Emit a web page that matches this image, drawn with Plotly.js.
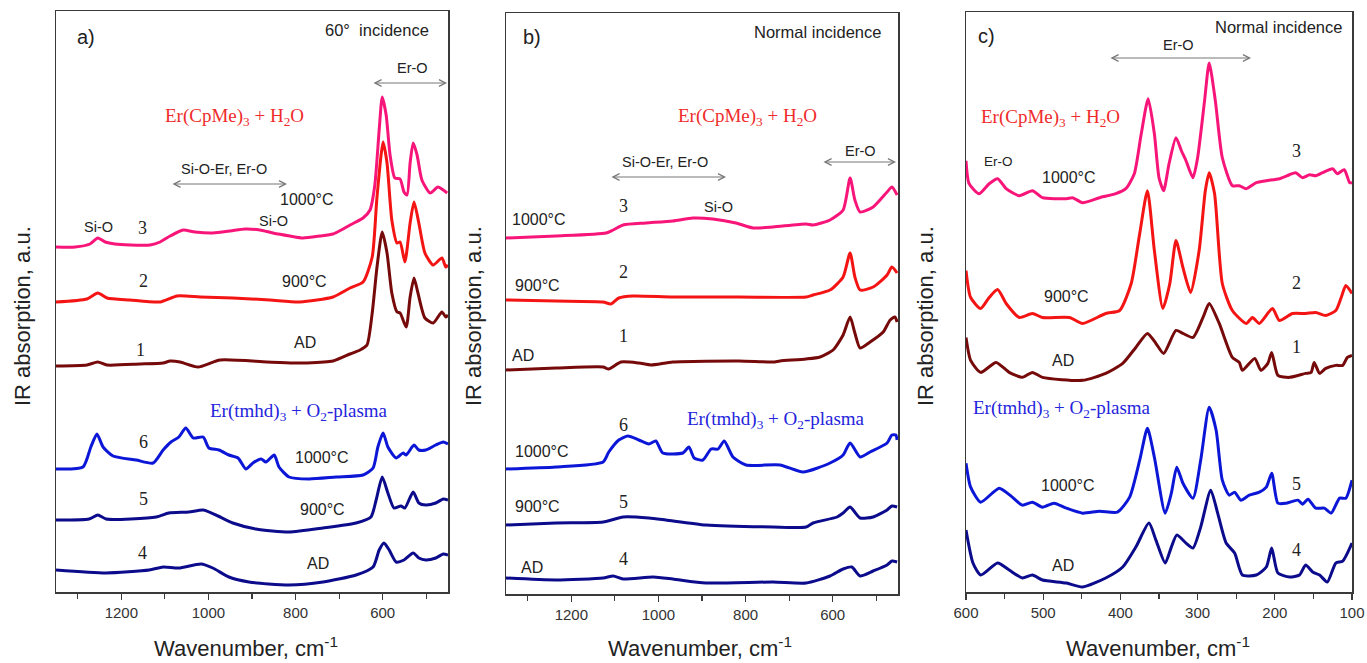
<!DOCTYPE html>
<html><head><meta charset="utf-8">
<script src="https://cdn.plot.ly/plotly-3.0.1.min.js"></script>
<style>html,body{margin:0;padding:0;background:#fff}#chart{width:1367px;height:663px}</style>
</head><body><div id="chart"></div>
<script>
// ---------- Panel a (60° incidence), wavenumber cm-1 / absorption (a.u., offset) ----------
const a_wn1=[1350,1279,1254,1233,1157,1104,1088,1065,1024,973,866,806,774,714,675,652,636,624,613,601,590,579,567,560,546,537,528,519,503,484,464,455,450];
const a_ab1=[22.6,22.7,23.0,22.7,22.8,22.9,23.1,23.0,22.5,23.2,23.0,22.9,22.9,23.1,23.8,24.2,24.7,27.9,32.5,36.0,33.9,29.9,28.0,27.9,26.5,29.5,31.4,29.9,27.4,26.9,28.0,27.5,27.7];
const a_wn2=[1350,1279,1254,1233,1180,1111,1072,1019,944,859,790,714,675,645,624,613,599,590,579,567,560,549,537,528,517,503,484,464,455,450];
const a_ab2=[29.0,29.3,29.9,29.4,29.2,29.0,29.6,29.5,29.4,29.2,29.0,29.5,30.4,31.0,33.5,39.5,45.0,42.9,37.2,34.9,35.0,33.0,36.9,39.0,36.9,33.9,32.7,33.4,32.5,32.7];
const a_wn3=[1350,1306,1272,1254,1237,1215,1180,1134,1111,1088,1058,1031,990,950,916,882,852,813,783,744,714,691,675,645,629,618,608,601,592,583,572,560,551,544,537,530,521,510,491,473,461,452];
const a_ab3=[34.5,34.5,34.8,35.4,35.0,34.8,34.7,34.7,35.0,35.6,36.2,36.0,35.9,36.1,36.3,36.2,35.9,35.6,35.4,35.6,35.8,36.3,36.7,37.4,38.2,40.7,46.2,49.5,47.7,43.7,41.4,41.3,40.0,39.7,42.9,44.9,43.7,41.2,39.9,40.5,40.2,39.9];
const a_wn4=[1350,1235,1136,1104,1068,1017,990,953,907,815,737,661,622,608,597,585,569,551,530,517,501,478,461,450];
const a_ab4=[2.2,1.9,2.2,2.5,2.4,2.8,2.4,1.5,1.0,0.7,1.0,1.7,2.5,4.2,4.9,4.2,3.0,3.2,3.9,3.4,3.2,3.4,3.8,3.7];
const a_wn5=[1350,1274,1254,1235,1120,1091,1045,1012,983,944,891,815,737,661,627,615,601,588,574,558,549,530,517,501,478,461,450];
const a_ab5=[7.2,7.3,7.7,7.3,7.5,7.9,8.0,8.2,7.7,6.9,6.3,6.0,6.4,6.9,7.5,9.2,11.5,9.9,8.4,8.6,8.4,10.0,8.9,8.7,8.9,9.3,9.2];
const a_wn6=[1350,1288,1270,1256,1242,1219,1166,1127,1104,1086,1068,1052,1035,1012,999,976,953,932,914,898,879,868,849,838,815,769,707,645,622,611,599,588,569,553,546,528,517,501,478,461,450];
const a_ab6=[12.3,12.5,14.5,15.8,14.5,13.6,13.2,12.9,14.2,15.0,15.5,16.4,15.4,15.5,14.4,14.2,13.7,13.4,12.3,12.9,13.3,13.0,13.7,12.5,11.5,11.3,11.5,11.7,12.4,14.5,15.9,14.5,13.4,13.9,13.7,14.7,14.2,14.2,14.7,15.0,14.8];

// ---------- Panel b (normal incidence) ----------
const b_wn1=[1350,1235,1127,1114,1086,1045,1017,967,815,737,721,661,629,599,576,560,549,537,514,484,468,457,452];
const b_ab1=[22.4,22.6,22.7,22.5,23.2,23.1,22.9,23.2,23.3,23.2,23.3,23.5,23.7,24.4,25.9,27.7,26.1,24.6,25.2,26.2,27.4,27.7,27.2];
const b_wn2=[1350,1235,1127,1109,1091,1058,967,815,661,645,606,576,560,549,537,507,475,464,452];
const b_ab2=[29.4,29.3,29.2,29.0,29.6,29.8,29.7,29.7,29.7,29.9,30.4,31.7,34.1,31.7,30.4,30.7,31.9,32.7,32.1];
const b_wn3=[1350,1235,1120,1104,1081,1029,967,921,875,822,783,737,661,645,606,576,560,549,537,507,475,464,452];
const b_ab3=[35.6,35.8,36.1,36.4,36.9,37.1,37.3,37.6,37.5,37.1,36.6,36.7,37.0,36.9,37.4,38.4,41.6,39.4,38.2,38.7,40.2,40.7,39.9];
const b_wn4=[1350,1235,1127,1104,1081,1012,967,891,737,661,606,576,556,537,507,475,464,452];
const b_ab4=[1.6,1.4,1.6,1.8,1.5,1.7,1.5,1.1,1.2,1.1,1.8,2.5,2.7,1.8,2.3,2.9,3.3,3.2];
const b_wn5=[1350,1235,1127,1081,1022,983,891,737,661,645,590,576,560,537,507,475,464,452];
const b_ab5=[6.9,7.1,7.2,7.7,7.6,7.4,6.9,6.7,6.7,7.1,7.7,8.1,8.7,7.6,7.7,8.4,8.8,8.7];
const b_wn6=[1350,1235,1127,1114,1091,1070,1045,1022,1006,990,944,930,918,898,879,863,849,829,799,721,668,606,576,560,537,514,475,464,455,452];
const b_ab6=[12.5,12.7,13.2,14.2,15.4,15.8,15.4,15.0,15.3,14.1,14.1,14.7,13.6,13.4,14.5,14.5,15.3,13.7,12.9,12.9,12.2,13.1,13.9,15.1,13.7,14.2,15.1,15.9,15.9,15.4];

// ---------- Panel c (normal incidence, far IR) ----------
const c_wn1=[600,594,581,561,544,527,514,501,449,419,397,380,365,354,344,328,319,306,293,285,272,255,246,242,226,218,209,204,196,181,160,153,149,142,134,121,112,106,100];
const c_ab1=[25.5,23.2,22.0,23.0,22.0,21.5,22.0,21.5,21.2,21.9,22.9,24.5,25.9,24.9,23.9,26.2,25.9,25.5,27.5,28.9,26.9,23.5,23.0,22.2,23.4,22.2,22.9,24.0,21.7,21.5,21.9,22.0,23.0,21.9,22.4,22.7,22.7,23.5,23.7];
const c_wn2=[600,594,581,570,559,548,531,514,501,466,449,419,401,386,375,365,356,345,336,328,319,309,298,290,285,278,268,255,237,229,220,203,194,177,160,147,134,121,114,108,100];
const c_ab2=[32.2,29.5,28.4,29.5,30.3,28.9,27.5,27.9,27.5,27.5,26.9,27.9,28.2,30.9,35.9,40.2,34.2,28.4,30.9,35.2,32.5,30.0,34.2,40.2,42.0,39.9,30.9,28.2,26.9,27.5,26.9,28.4,27.2,27.9,27.9,28.0,27.7,28.2,29.5,30.7,29.9];
const c_wn3=[600,596,583,570,559,548,531,514,501,470,462,449,427,406,393,382,373,364,356,350,344,337,328,321,315,306,300,291,285,277,268,255,246,237,224,211,194,181,173,164,155,147,138,125,119,110,103,100];
const c_ab3=[43.2,40.9,39.9,40.9,41.4,40.4,39.7,40.2,39.5,39.4,39.5,39.0,39.5,39.9,40.4,41.9,45.9,49.4,45.9,41.5,40.2,42.9,45.5,44.2,43.2,41.5,43.5,49.2,53.0,49.2,43.5,40.7,40.7,40.4,41.0,41.2,41.4,41.8,42.0,41.5,41.8,41.7,42.0,42.4,41.9,42.3,41.0,41.0];
const c_wn4=[600,591,581,559,544,527,514,501,470,449,419,397,380,363,354,342,334,327,315,306,296,283,274,263,252,242,224,211,204,196,181,168,160,151,142,132,121,112,100];
const c_ab4=[6.2,2.9,1.7,2.9,2.2,1.4,1.7,1.2,0.9,0.5,1.4,2.5,4.5,6.9,5.2,2.9,4.5,5.7,4.9,4.4,6.5,10.2,7.9,4.9,3.9,1.7,1.7,2.5,4.4,1.9,1.5,1.7,2.7,2.0,1.7,1.0,2.9,3.1,4.9];
const c_wn5=[600,594,581,557,540,527,514,501,486,470,449,427,404,388,375,365,356,342,334,327,319,306,296,285,276,268,259,252,244,233,220,211,204,196,185,170,164,157,147,136,127,116,108,100];
const c_ab5=[12.9,10.5,9.0,10.4,9.5,8.7,9.0,8.5,8.9,8.4,7.9,8.1,8.0,9.5,13.2,16.4,13.5,7.9,9.9,12.5,10.9,9.4,13.2,18.5,16.2,11.2,9.7,10.0,9.2,9.7,10.0,10.5,11.9,8.9,8.9,9.2,8.8,9.3,8.4,8.4,7.9,9.4,9.4,11.2];

const COL={pink:'#f8157a',red:'#f41414',maroon:'#760a0a',blue:'#0c16d6',navy:'#0b0b8c'};
const W=1367,H=663;

function tr(x,y,color,ax){
  return {x:x,y:y,mode:'lines',xaxis:'x'+ax,yaxis:'y'+ax,hoverinfo:'skip',
    line:{color:color,width:3,shape:'spline',smoothing:0.6}};
}
const data=[
  tr(a_wn1,a_ab1,COL.maroon,''),tr(a_wn2,a_ab2,COL.red,''),tr(a_wn3,a_ab3,COL.pink,''),
  tr(a_wn4,a_ab4,COL.navy,''),tr(a_wn5,a_ab5,COL.navy,''),tr(a_wn6,a_ab6,COL.blue,''),
  tr(b_wn1,b_ab1,COL.maroon,'2'),tr(b_wn2,b_ab2,COL.red,'2'),tr(b_wn3,b_ab3,COL.pink,'2'),
  tr(b_wn4,b_ab4,COL.navy,'2'),tr(b_wn5,b_ab5,COL.navy,'2'),tr(b_wn6,b_ab6,COL.blue,'2'),
  tr(c_wn1,c_ab1,COL.maroon,'3'),tr(c_wn2,c_ab2,COL.red,'3'),tr(c_wn3,c_ab3,COL.pink,'3'),
  tr(c_wn4,c_ab4,COL.navy,'3'),tr(c_wn5,c_ab5,COL.blue,'3')
];

const SANS='Liberation Sans, Arial, sans-serif', SERIF='Liberation Serif, Times New Roman, serif';
function xax(l,r,range,dtick,mdtick,anchor){
  return {domain:[l/W,r/W],range:range,anchor:anchor,showgrid:false,zeroline:false,
    showline:true,mirror:true,linecolor:'#3a3a3a',linewidth:1.5,
    ticks:'outside',ticklen:6,tickwidth:1.2,tickcolor:'#3a3a3a',dtick:dtick,tick0:0,
    minor:{dtick:mdtick,ticks:'outside',ticklen:5,tickwidth:1.2,tickcolor:'#3a3a3a',showgrid:false},
    tickfont:{family:SANS,size:15,color:'#333'},automargin:false};
}
function yax(b,t,anchor){
  return {domain:[1-b/H,1-t/H],range:[0,58.1],anchor:anchor,showgrid:false,zeroline:false,
    showline:true,mirror:true,linecolor:'#3a3a3a',linewidth:1.5,showticklabels:false,ticks:'',automargin:false};
}
function A(px,py,text,o){
  return Object.assign({xref:'paper',yref:'paper',x:px/W,y:1-py/H,text:text,showarrow:false,
    xanchor:'center',yanchor:'middle',font:{family:SANS,size:15,color:'#222'}},o||{});
}
function F(size,color,fam){return {font:{family:fam||SANS,size:size,color:color||'#222'}};}
function ARR(px1,px2,py){
  return {xref:'paper',yref:'paper',x:px2/W,y:1-py/H,axref:'pixel',ayref:'pixel',ax:px1-px2,ay:0,
    text:'',showarrow:true,arrowside:'end+start',arrowhead:5,startarrowhead:5,arrowsize:1.3,startarrowsize:1.3,
    arrowwidth:1,arrowcolor:'#777',standoff:0,startstandoff:0};
}
const RED='Er(CpMe)<sub>3</sub> + H<sub>2</sub>O', BLUE='Er(tmhd)<sub>3</sub> + O<sub>2</sub>-plasma';
const fRed=F(19,'#ef2b2b',SERIF), fBlue=F(19,'#2424dc',SERIF), fNum=F(18,'#222',SERIF);
const fT=F(16), fS=F(14.5), fAx=F(22,'#222');
const ann=[
  // panel a
  A(86,37,'a)',F(20)), A(377,30,'60°  incidence',F(16.5)),
  A(412,68,'Er-O',F(14.5)), ARR(372,447,83),
  A(234,117,RED,fRed),
  A(224,169,'Si-O-Er, Er-O',fS), ARR(171,287,184),
  A(307,199,'1000°C',fT),
  A(98,227,'Si-O',fS), A(142,228,'3',fNum), A(273,221,'Si-O',fS),
  A(143,281,'2',fNum), A(304,281,'900°C',fT),
  A(140,350,'1',fNum), A(305,342,'AD',fT),
  A(299,412,BLUE,fBlue),
  A(143,442,'6',fNum), A(322,457,'1000°C',fT),
  A(143,499,'5',fNum), A(322,509,'900°C',fT),
  A(142,553,'4',fNum), A(318,563,'AD',fT),
  // panel b
  A(532,37,'b)',F(20)), A(817,32,'Normal incidence',F(16.5)),
  A(747,117,RED,fRed),
  A(665,162,'Si-O-Er, Er-O',fS), ARR(610,726,177),
  A(860,151,'Er-O',F(14.5)), ARR(822,896,162),
  A(539,220,'1000°C',fT), A(623,206,'3',fNum), A(719,207,'Si-O',fS),
  A(537,285,'900°C',fT), A(623,272,'2',fNum),
  A(523,355,'AD',fT), A(623,336,'1',fNum),
  A(623,425,'6',fNum), A(776,420,BLUE,fBlue),
  A(542,451,'1000°C',fT),
  A(623,502,'5',fNum), A(537,507,'900°C',fT),
  A(623,559,'4',fNum), A(532,567,'AD',fT),
  // panel c
  A(986,36,'c)',F(20)), A(1278,27,'Normal incidence',F(16.5)),
  A(1178,45,'Er-O',F(14.5)), ARR(1109,1251,58),
  A(1050,118,RED,fRed),
  A(998,161,'Er-O',F(13.5)), A(1069,178,'1000°C',Object.assign({bgcolor:'#fff'},fT)), A(1296,151,'3',fNum),
  A(1066,296,'900°C',fT), A(1296,283,'2',fNum),
  A(1063,360,'AD',fT), A(1296,347,'1',fNum),
  A(1062,409,BLUE,fBlue),
  A(1068,486,'1000°C',Object.assign({bgcolor:'#fff'},fT)), A(1296,484,'5',fNum),
  A(1063,565,'AD',fT), A(1296,550,'4',fNum),
  // axis titles
  A(246,647,'Wavenumber, cm<sup>-1</sup>',fAx), A(700,647,'Wavenumber, cm<sup>-1</sup>',fAx), A(1158,647,'Wavenumber, cm<sup>-1</sup>',fAx),
  A(22,316,'IR absorption, a.u.',Object.assign({textangle:-90},fAx)),
  A(473,316,'IR absorption, a.u.',Object.assign({textangle:-90},fAx)),
  A(925,316,'IR absorption, a.u.',Object.assign({textangle:-90},fAx))
];

const layout={
  width:W,height:H,margin:{l:0,r:0,t:0,b:0},paper_bgcolor:'#fff',plot_bgcolor:'#fff',showlegend:false,
  xaxis:xax(56,448,[1350,450],200,100,'y'), yaxis:yax(592,11,'x'),
  xaxis2:xax(506,898,[1350,450],200,100,'y2'), yaxis2:yax(594,13,'x2'),
  xaxis3:xax(966,1352,[600,100],100,50,'y3'), yaxis3:yax(592,12,'x3'),
  annotations:ann
};
Plotly.newPlot('chart',data,layout,{staticPlot:true,displayModeBar:false});
</script></body></html>
